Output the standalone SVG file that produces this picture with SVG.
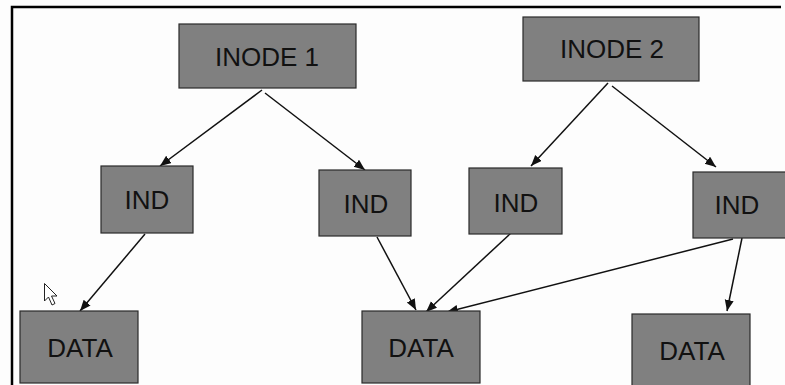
<svg xmlns="http://www.w3.org/2000/svg" width="785" height="385" viewBox="0 0 785 385">
<style>
.box{fill:#808080;stroke:#2a2a2a;stroke-width:1.2}
.lbl{font-family:"Liberation Sans",Arial,sans-serif;font-size:26px;fill:#111;text-anchor:middle}
.c{stroke:#111;stroke-width:1.5;fill:none;marker-end:url(#ah)}
</style>
<defs>
<marker id="ah" markerUnits="userSpaceOnUse" markerWidth="12" markerHeight="10" refX="11" refY="4.5" orient="auto">
<path d="M0,0 L11,4.5 L0,9 z" fill="#111"/>
</marker>
</defs>
<rect width="785" height="385" fill="#fdfdfd"/>
<path d="M12,385 V7 H781" fill="none" stroke="#000" stroke-width="2.5"/>
<g id="connectors">
<line class="c" x1="262" y1="90" x2="160" y2="166"/>
<line class="c" x1="265" y1="93" x2="365" y2="170"/>
<line class="c" x1="608" y1="83" x2="531" y2="166"/>
<line class="c" x1="612" y1="86" x2="716" y2="167"/>
<line class="c" x1="145" y1="234" x2="80" y2="311"/>
<line class="c" x1="377" y1="237" x2="416" y2="310"/>
<line class="c" x1="511" y1="233" x2="426" y2="312"/>
<line class="c" x1="733" y1="239" x2="447" y2="312"/>
<line class="c" x1="742" y1="238" x2="727" y2="311"/>
</g>
<g id="inode1"><rect class="box" x="179" y="24" width="177" height="64"/><text class="lbl" x="267" y="66">INODE 1</text></g>
<g id="inode2"><rect class="box" x="523" y="17" width="176" height="64"/><text class="lbl" x="612" y="58">INODE 2</text></g>
<g id="ind1"><rect class="box" x="101" y="166" width="92" height="67"/><text class="lbl" x="147" y="209">IND</text></g>
<g id="ind2"><rect class="box" x="319" y="170" width="92" height="66"/><text class="lbl" x="366" y="213">IND</text></g>
<g id="ind3"><rect class="box" x="469" y="168" width="93" height="66"/><text class="lbl" x="516" y="212">IND</text></g>
<g id="ind4"><rect class="box" x="693" y="172" width="94" height="66"/><text class="lbl" x="737" y="214">IND</text></g>
<g id="data1"><rect class="box" x="20" y="311" width="118" height="72"/><text class="lbl" x="80" y="357">DATA</text></g>
<g id="data2"><rect class="box" x="362" y="311" width="118" height="72"/><text class="lbl" x="421" y="357">DATA</text></g>
<g id="data3"><rect class="box" x="632" y="314" width="118" height="74"/><text class="lbl" x="692" y="360">DATA</text></g>
<path d="M44.5,283.5 L44.5,301 L48.5,297 L52,305 L55,303.5 L51.5,296 L57,296 Z" fill="#fff" stroke="#222" stroke-width="1"/>
</svg>
